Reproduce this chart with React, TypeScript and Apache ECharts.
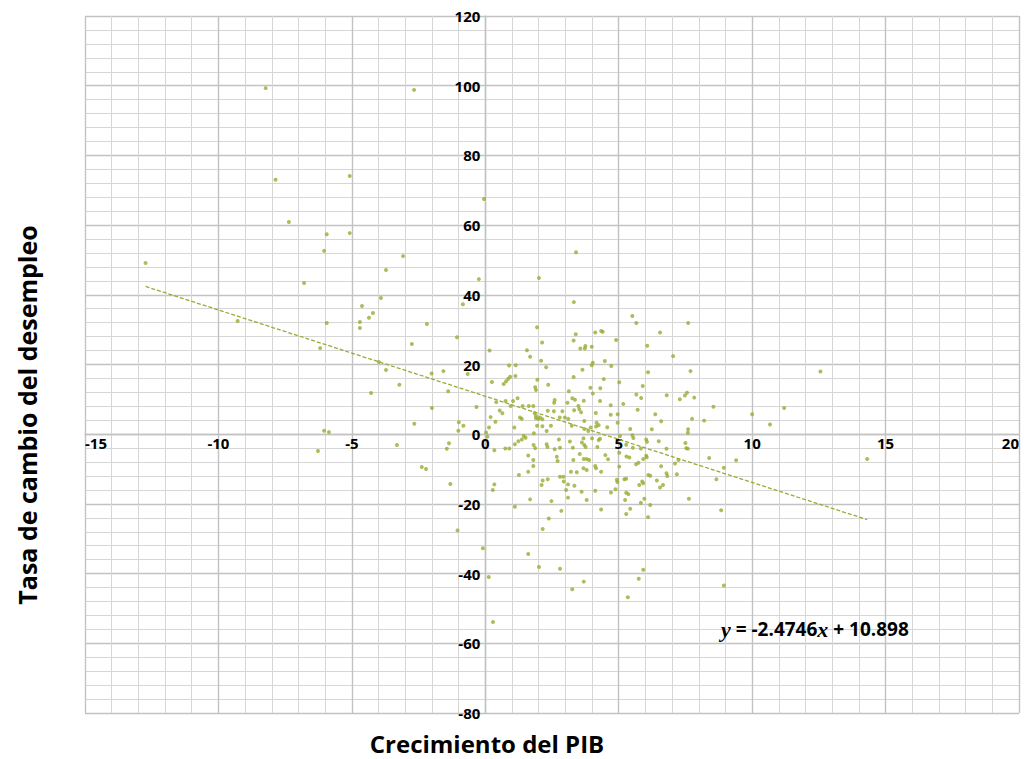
import React, { useEffect, useRef } from "react";
import * as echarts from "echarts";

// Axis ranges / ticks
const xRange = [-15, 20];
const xStep = 5;
const yRange = [-80, 120];
const yStep = 20;

// Regression
const slope = -2.4746;
const intercept = 10.898;
const equationParts = ["y", " = -2.4746", "x", " + 10.898"];

const xTitle = "Crecimiento del PIB";
const yTitle = "Tasa de cambio del desempleo";

// [GDP growth, unemployment change rate]
const outerPoints: [number, number][] = [
  [-8.23, 99.3], [-2.67, 98.8], [-7.86, 73.0], [-5.08, 74.1], [-7.36, 60.9], [-0.05, 67.5],
  [-5.94, 57.4], [-5.08, 57.7], [-12.73, 49.1], [-6.04, 52.6], [-3.08, 51.1], [3.4, 52.2],
  [2.01, 44.8], [-0.24, 44.5], [-6.79, 43.4], [-3.72, 47.1], [-3.91, 39.1], [-4.62, 36.8],
  [-4.21, 34.8], [-4.36, 33.4], [-4.7, 32.2], [-4.7, 30.5], [-9.28, 32.5], [-5.94, 31.9],
  [-2.19, 31.6], [-0.84, 37.3], [3.32, 37.9], [-2.75, 25.9], [-6.19, 24.7], [-3.99, 20.7],
  [-3.72, 18.4], [-4.28, 11.8], [-6.04, 1.0], [-5.86, 0.6], [-6.27, -4.8], [-3.31, -3.1],
  [0.29, -53.9], [12.56, 18.0], [11.2, 7.5], [10.67, 2.8], [10.0, 5.7], [14.31, -7.1],
  [9.4, -7.5], [1.94, 30.7], [5.51, 33.9], [5.66, 31.9], [7.6, 31.9],
];

const leftCore: [number, number][] = [
  [-1.06, 27.8], [0.16, 24.0], [-2.01, 17.4], [-1.57, 18.1], [-0.66, 17.3], [-3.22, 14.2],
  [-1.39, 12.3], [-2.0, 7.5], [-0.33, 7.8], [-2.66, 3.0], [-0.99, 3.4], [-0.82, 2.4],
  [-1.01, 1.0], [-1.36, -2.6], [-1.44, -4.2], [-2.38, -9.4], [-2.22, -10.0], [0.25, 15.0],
  [0.69, 14.4], [0.78, 15.2], [0.86, 15.9], [0.93, 16.5], [0.89, 19.7], [1.14, 19.8],
  [1.13, 16.7], [1.21, 10.3], [0.41, 9.2], [0.76, 9.5], [1.04, 9.5], [0.95, 8.1],
  [0.54, 6.8], [0.64, 6.0], [0.2, 4.9], [0.38, 3.6], [0.14, 1.9], [0.03, 0.5],
  [0.08, -0.7], [1.09, 1.9], [1.24, -2.0], [1.11, -2.9], [0.75, -4.1], [0.9, -4.1],
  [0.34, -4.6], [-1.31, -14.3], [0.34, -14.4], [0.28, -16.0], [1.11, -20.8], [-1.04, -27.6],
  [-0.09, -32.7], [0.13, -41.0], [1.26, -11.7],
];

const lowerCore: [number, number][] = [
  [1.61, -10.8], [3.21, -10.8], [3.43, -10.9], [4.34, -10.8], [3.8, -10.3], [2.15, -13.3],
  [2.34, -12.9], [2.8, -12.2], [2.93, -12.2], [2.11, -14.6], [2.94, -13.6], [3.1, -14.4],
  [3.34, -14.8], [3.03, -16.0], [3.61, -16.5], [4.12, -16.2], [4.71, -16.7], [4.88, -15.8],
  [4.93, -13.1], [4.95, -13.7], [5.21, -12.9], [5.28, -12.8], [5.77, -14.6], [5.88, -13.6],
  [5.92, -14.1], [5.28, -16.8], [5.36, -17.2], [1.68, -18.7], [2.48, -19.2], [3.1, -18.2],
  [3.8, -18.9], [5.24, -18.9], [5.83, -19.7], [5.96, -18.5], [2.85, -22.0], [4.34, -21.6],
  [5.43, -21.4], [5.28, -22.9], [2.38, -24.2], [2.15, -27.2], [1.61, -34.4], [2.01, -38.1],
  [2.8, -38.6], [5.92, -38.9], [5.75, -41.5], [3.69, -42.3], [3.26, -44.5], [5.34, -46.8],
  [6.11, -11.7], [6.18, -11.9], [6.79, -11.2], [6.82, -12.0], [7.18, -11.5], [6.43, -13.3],
  [6.66, -14.6], [6.55, -15.3], [6.18, -20.3], [6.1, -23.8], [7.63, -18.5], [8.66, -12.9],
  [8.84, -21.8], [8.94, -43.4],
];

const rightCore: [number, number][] = [
  [6.55, 29.2], [6.07, 25.4], [7.04, 22.4], [6.1, 17.8], [7.69, 18.1], [6.8, 11.2],
  [7.29, 10.0], [7.48, 11.1], [7.56, 11.9], [7.83, 10.5], [8.55, 7.9], [6.37, 5.7],
  [6.59, 3.7], [7.75, 4.4], [8.2, 3.9], [6.24, 1.4], [7.6, 1.4], [7.59, 0.4],
  [6.03, -1.5], [6.06, -2.2], [6.5, -2.0], [7.5, -2.5], [7.53, -4.0], [7.59, -4.2],
  [6.79, -4.2], [6.03, -6.2], [6.05, -6.6], [7.11, -8.4], [7.24, -7.4], [8.39, -6.8],
  [6.59, -9.2], [8.94, -9.6],
];

const centralCore: [number, number][] = [
  [3.39, 28.7], [4.12, 29.2], [4.34, 29.6], [4.4, 29.4], [2.13, 26.3], [3.31, 26.9],
  [3.56, 24.6], [3.75, 25.3], [3.73, 24.6], [3.99, 25.1], [4.9, 27.0], [1.56, 24.1],
  [1.68, 22.2], [2.09, 21.1], [2.28, 19.2], [4.03, 20.5], [3.99, 19.8], [4.48, 21.0],
  [4.72, 19.6], [3.64, 18.5], [3.31, 16.4], [4.44, 15.8], [1.95, 15.6], [2.36, 14.2],
  [5.02, 14.9], [1.87, 13.5], [1.9, 12.7], [3.94, 13.3], [3.13, 12.3], [4.31, 13.2],
  [4.03, 11.7], [5.9, 13.8], [5.66, 11.4], [3.26, 10.3], [3.36, 9.9], [3.69, 9.6],
  [4.3, 9.5], [5.84, 10.4], [2.6, 9.8], [2.58, 9.0], [3.08, 9.0], [3.49, 8.1],
  [3.52, 7.2], [3.59, 6.3], [4.7, 8.3], [5.17, 8.7], [4.14, 6.1], [1.4, 8.1],
  [1.63, 8.1], [1.8, 8.1], [3.33, 6.9], [5.71, 7.0], [2.34, 6.7], [2.57, 6.6],
  [2.89, 6.6], [1.85, 6.0], [1.9, 5.2], [1.99, 4.4], [1.9, 4.6], [2.05, 4.8],
  [1.3, 4.8], [1.37, 4.4], [2.14, 4.3], [2.79, 4.8], [2.98, 4.8], [3.11, 4.4],
  [4.7, 5.6], [4.96, 5.7], [4.17, 3.3], [4.25, 2.6], [4.15, 2.2], [3.71, 3.8],
  [4.96, 3.3], [1.94, 2.4], [2.14, 2.3], [2.46, 2.4], [3.24, 2.4], [3.71, 1.5],
  [3.95, 1.9], [3.86, 0.9], [4.57, 2.0], [5.43, 1.5], [2.3, 0.9], [1.82, 0.3],
  [5.51, -0.3], [5.55, -1.1], [5.05, -0.5], [1.44, -0.5], [1.51, -1.0], [1.37, -1.5],
  [2.76, -1.5], [3.68, -1.2], [3.62, -2.4], [4.0, -1.2], [4.3, -1.3], [4.25, -1.7],
  [3.17, -2.1], [3.71, -3.1], [2.3, -2.9], [2.33, -3.7], [1.81, -3.1], [1.87, -4.0],
  [2.8, -3.9], [3.28, -3.9], [3.76, -3.7], [2.6, -4.3], [4.2, -3.7], [5.28, -3.0],
  [5.53, -3.9], [5.83, -4.1], [1.61, -6.1], [2.68, -6.5], [2.71, -7.7], [3.54, -5.7],
  [4.5, -6.0], [5.02, -5.3], [3.3, -7.4], [3.69, -7.1], [3.8, -7.1], [3.89, -7.4],
  [4.6, -7.2], [5.29, -6.4], [5.4, -6.7], [5.65, -8.6], [5.74, -8.2], [5.92, -7.1],
  [1.8, -7.4], [1.8, -9.1], [3.68, -9.8], [4.12, -9.1], [4.15, -9.8], [5.02, -9.3],
];

const allPoints = [...outerPoints, ...leftCore, ...lowerCore, ...rightCore, ...centralCore];

const POINT_COLOR = "#9AAB32";
const FONT = "'Open Sans', 'Noto Sans', sans-serif";

const W = 1025;
const H = 759;
const GRID = { left: 85, right: 6, top: 16, bottom: 46 };

export default function App() {
  const ref = useRef<HTMLDivElement>(null);

  useEffect(() => {
    if (!ref.current) return;
    const chart = echarts.init(ref.current, null, { renderer: "svg" });
    const xs = allPoints.map((p) => p[0]);
    const xLo = Math.min(...xs);
    const xHi = Math.max(...xs);
    const trend = [
      [xLo, slope * xLo + intercept],
      [xHi, slope * xHi + intercept],
    ];

    // place each axis on the other axis' zero
    const gridW = W - GRID.left - GRID.right;
    const gridH = H - GRID.top - GRID.bottom;
    const xAxisOffset = -gridH * (0 - yRange[0]) / (yRange[1] - yRange[0]);
    const yAxisOffset = -gridW * (0 - xRange[0]) / (xRange[1] - xRange[0]);

    const majorSplit = { show: true, lineStyle: { color: "#c2c2c2", width: 1.4 } };
    const minorSplit = { show: true, lineStyle: { color: "#d6d6d6", width: 1 } };
    const labelStyle = {
      color: "#000",
      fontWeight: "bold" as const,
      fontSize: 15,
      fontFamily: FONT,
    };

    chart.setOption({
      animation: false,
      backgroundColor: "#ffffff",
      grid: { ...GRID, containLabel: false },
      title: {
        text: `{v|${equationParts[0]}}{n|${equationParts[1]}}{v|${equationParts[2]}}{n|${equationParts[3]}}`,
        left: 721,
        top: 618,
        padding: 0,
        textStyle: {
          rich: {
            v: {
              fontFamily: "'Liberation Serif', serif",
              fontStyle: "italic",
              fontWeight: "bold",
              fontSize: 22,
              color: "#000",
            },
            n: {
              fontFamily: FONT,
              fontWeight: "bold",
              fontSize: 19,
              color: "#000",
            },
          },
        },
      },
      xAxis: {
        type: "value",
        position: "bottom",
        offset: xAxisOffset,
        min: xRange[0],
        max: xRange[1],
        interval: xStep,
        axisLine: { show: true, onZero: false, lineStyle: { color: "#c2c2c2", width: 1.4 } },
        axisTick: { show: false },
        minorTick: { show: false, splitNumber: 5 },
        splitLine: majorSplit,
        minorSplitLine: minorSplit,
        axisLabel: {
          ...labelStyle,
          margin: 1,
          alignMinLabel: "left",
          alignMaxLabel: "right",
        },
      },
      yAxis: {
        type: "value",
        position: "left",
        offset: yAxisOffset,
        min: yRange[0],
        max: yRange[1],
        interval: yStep,
        axisLine: { show: true, onZero: false, lineStyle: { color: "#c2c2c2", width: 1.4 } },
        axisTick: { show: false },
        minorTick: { show: false, splitNumber: 5 },
        splitLine: majorSplit,
        minorSplitLine: minorSplit,
        axisLabel: { ...labelStyle, margin: 5 },
      },
      series: [
        {
          type: "scatter",
          data: allPoints,
          symbol: "circle",
          symbolSize: 4,
          itemStyle: { color: POINT_COLOR },
          z: 3,
        },
        {
          type: "line",
          data: trend,
          symbol: "none",
          lineStyle: { color: POINT_COLOR, width: 1.3, type: [4, 2] },
          z: 2,
        },
      ],
      graphic: [
        {
          type: "text",
          x: 487,
          y: 743,
          style: {
            text: xTitle,
            align: "center",
            verticalAlign: "middle",
            fill: "#000",
            font: `bold 24px ${FONT}`,
          },
        },
        {
          type: "text",
          x: 27,
          y: 415,
          rotation: Math.PI / 2,
          style: {
            text: yTitle,
            align: "center",
            verticalAlign: "middle",
            fill: "#000",
            font: `bold 25px ${FONT}`,
          },
        },
      ],
    });
    return () => chart.dispose();
  }, []);

  return (
    <div
      ref={ref}
      style={{ position: "fixed", left: 0, top: 0, width: W, height: H }}
    />
  );
}
